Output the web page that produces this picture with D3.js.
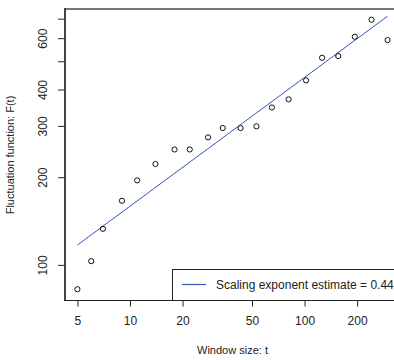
<!DOCTYPE html>
<html>
<head>
<meta charset="utf-8">
<script src="https://cdn.jsdelivr.net/npm/d3@7"></script>
<style>
  body { margin: 0; background: #fff; }
  text { font-family: "Liberation Sans", Arial, sans-serif; }
</style>
</head>
<body>
<svg width="394" height="360"></svg>
<script>
// window sizes and fluctuation values
var windowSizes = [5, 6, 7, 9, 11, 14, 18, 22, 28, 34, 43, 53, 65, 81, 102, 126, 156, 194, 242, 299];
var fluct = [82.5, 103, 133, 166, 195, 222, 249, 249, 274, 295, 295, 299, 347, 370, 430, 514, 521, 607, 694, 591];

// fitted line end points
var fitX = [5, 299];
var fitY = [117, 714];

var xTicks = [5, 10, 20, 50, 100, 200];
var yTicks = [100, 200, 300, 400, 500, 600, 700];
var yLabels = [100, 200, 300, 400, 600];

var legendText = "Scaling exponent estimate = 0.44";

var svg = d3.select("svg");

// R style 4% padding in log space
function padded(vals) {
    var lo = Math.log10(d3.min(vals)), hi = Math.log10(d3.max(vals));
    var p = (hi - lo) * 0.04;
    return [Math.pow(10, lo - p), Math.pow(10, hi + p)];
}

var x = d3.scaleLog().domain(padded(windowSizes)).range([65, 400]);
var y = d3.scaleLog().domain(padded(fluct)).range([300, 9]);

// plot box (right side falls outside the picture)
svg.append("line").attr("x1", 65).attr("x2", 400).attr("y1", 9).attr("y2", 9)
    .attr("stroke", "#777").attr("stroke-width", 2);
svg.append("line").attr("x1", 65).attr("x2", 65).attr("y1", 8).attr("y2", 301)
    .attr("stroke", "#444").attr("stroke-width", 2);
svg.append("line").attr("x1", 64).attr("x2", 400).attr("y1", 300.5).attr("y2", 300.5)
    .attr("stroke", "#222").attr("stroke-width", 1);

// x axis
var xAxis = svg.append("g").attr("transform", "translate(0,300.5)")
    .call(d3.axisBottom(x).tickValues(xTicks).tickFormat(d3.format("d")).tickSize(6).tickPadding(10));
xAxis.select(".domain").remove();
xAxis.selectAll("text").attr("font-size", 12).attr("fill", "#222");
xAxis.selectAll("line").attr("stroke", "#222");

// y axis, labels rotated like R
var yAxis = svg.append("g").attr("transform", "translate(65,0)")
    .call(d3.axisLeft(y).tickValues(yTicks).tickSize(7)
        .tickFormat(function (d) { return yLabels.indexOf(d) >= 0 ? d : ""; }));
yAxis.select(".domain").remove();
yAxis.selectAll("line").attr("stroke", "#222");
yAxis.selectAll("text")
    .attr("font-size", 12).attr("fill", "#222")
    .attr("x", 0).attr("dy", null)
    .attr("text-anchor", "middle")
    .attr("transform", "translate(-22,0) rotate(-90)")
    .attr("y", 4);

// fitted line
svg.append("line")
    .attr("x1", x(fitX[0])).attr("y1", y(fitY[0]))
    .attr("x2", x(fitX[1])).attr("y2", y(fitY[1]))
    .attr("stroke", "#3355bb").attr("stroke-width", 1);

// points
svg.append("g").selectAll("circle")
    .data(windowSizes)
    .enter()
    .append("circle")
    .attr("cx", function (d) { return x(d); })
    .attr("cy", function (d, i) { return y(fluct[i]); })
    .attr("r", 2.6)
    .attr("fill", "none")
    .attr("stroke", "#111")
    .attr("stroke-width", 1);

// legend box, bottom right
var lg = svg.append("g");
lg.append("rect").attr("x", 172.5).attr("y", 269.5).attr("width", 228).attr("height", 31)
    .attr("fill", "#fff").attr("stroke", "#222").attr("stroke-width", 1);
lg.append("line").attr("x1", 182).attr("x2", 206).attr("y1", 284.5).attr("y2", 284.5)
    .attr("stroke", "#3355bb").attr("stroke-width", 1.2);
lg.append("text").attr("x", 216).attr("y", 289).attr("font-size", 12).attr("fill", "#222")
    .text(legendText);

// axis titles
svg.append("text").attr("x", 232.5).attr("y", 354).attr("text-anchor", "middle")
    .attr("font-size", 11).attr("fill", "#222").text("Window size: t");
svg.append("text").attr("transform", "translate(14,155) rotate(-90)").attr("text-anchor", "middle")
    .attr("font-size", 11).attr("fill", "#222").text("Fluctuation function: F(t)");
</script>
</body>
</html>
